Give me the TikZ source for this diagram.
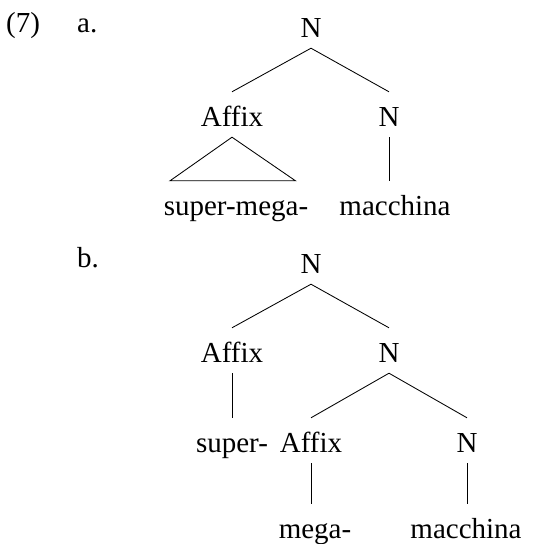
\documentclass[tikz,border=0pt]{standalone}
\usepackage{fontspec}
\setmainfont{Liberation Serif}
\begin{document}
\begin{tikzpicture}[x=1pt,y=-1pt,
  every node/.style={font=\fontsize{29}{33}\selectfont, inner sep=0pt},
  tn/.style={anchor=base, text height=34pt, text depth=11pt, inner ysep=0pt},
  lbl/.style={anchor=base west},
  edge/.style={line width=0.85pt}]
\useasboundingbox (0,0) rectangle (533,544);
% labels
\node[lbl] (ex) at (6,32) {(7)};
\node[lbl] (la) at (77,32) {a.};
\node[lbl] (lb) at (77,267) {b.};
% tree a
\node[tn] (Na) at (311,37) {N};
\node[tn] (AffA) at (232,126) {Affix};
\node[tn] (NaR) at (389,126) {N};
\node[tn] (sm) at (236,215) {super-mega-};
\node[tn] (maca) at (395,215) {macchina};
\draw[edge] (Na.south) -- (AffA.north);
\draw[edge] (Na.south) -- (NaR.north);
\draw[edge] (AffA.south) -- ([xshift=-66pt]sm.north) -- ([xshift=59.5pt]sm.north) -- cycle;
\draw[edge] (NaR.south) -- (NaR.south |- maca.north);
% tree b
\node[tn] (Nb) at (311,273) {N};
\node[tn] (AffB) at (232,362) {Affix};
\node[tn] (NbR) at (389,362) {N};
\node[tn] (sup) at (232,452) {super-};
\node[tn] (AffC) at (311,452) {Affix};
\node[tn] (NbRR) at (467,452) {N};
\node[tn] (mega) at (315,538) {mega-};
\node[tn] (macb) at (466,538) {macchina};
\draw[edge] (Nb.south) -- (AffB.north);
\draw[edge] (Nb.south) -- (NbR.north);
\draw[edge] (AffB.south) -- (AffB.south |- sup.north);
\draw[edge] (NbR.south) -- (AffC.north);
\draw[edge] (NbR.south) -- (NbRR.north);
\draw[edge] (AffC.south) -- (AffC.south |- mega.north);
\draw[edge] (NbRR.south) -- (NbRR.south |- macb.north);
\end{tikzpicture}
\end{document}
